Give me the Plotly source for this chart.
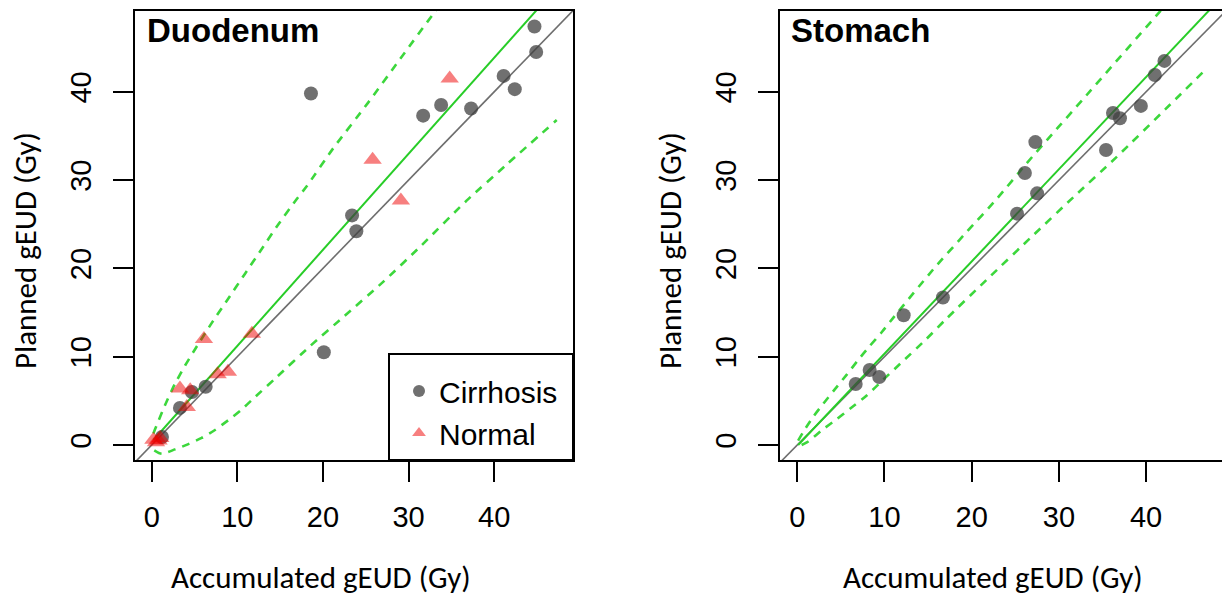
import plotly.graph_objects as go

# ---------------- data ----------------
duo_cirr_x = [44.7, 44.9, 41.1, 42.4, 37.3, 33.8, 31.7, 18.6, 23.4, 23.9, 20.1, 6.3, 4.7, 3.3, 1.2]
duo_cirr_y = [47.4, 44.5, 41.8, 40.3, 38.1, 38.5, 37.3, 39.8, 26.0, 24.2, 10.5, 6.6, 6.0, 4.2, 0.9]

duo_norm_x = [34.8, 25.8, 29.1, 6.1, 11.7, 7.7, 8.9, 3.3, 4.5, 4.1, 0.2, 0.5, 0.8, 1.0]
duo_norm_y = [41.5, 32.3, 27.7, 12.0, 12.6, 8.0, 8.3, 6.4, 6.2, 4.3, 0.6, 0.3, 0.5, 0.8]

sto_cirr_x = [42.1, 41.0, 36.2, 37.0, 39.4, 35.4, 27.3, 26.1, 27.5, 25.2, 16.7, 12.2, 8.3, 9.4, 6.7]
sto_cirr_y = [43.5, 41.9, 37.6, 37.0, 38.4, 33.4, 34.3, 30.8, 28.5, 26.2, 16.7, 14.7, 8.5, 7.7, 6.9]

# fitted lines and prediction bands
duo_fit_x = [0.2, 47.3]
duo_fit_y = [0.57, 51.8]
duo_up_x = [0.2, 0.4, 1.55, 2.7, 3.9, 5.1, 7.0, 8.95, 10.9, 12.85, 14.8, 16.9, 18.1, 21.2, 25.3, 29.0, 33.1, 35.0]
duo_up_y = [1.3, 1.8, 4.5, 6.9, 9.0, 10.9, 13.8, 16.6, 19.4, 22.2, 25.0, 27.8, 29.3, 33.6, 38.8, 43.7, 49.1, 51.4]
duo_lo_x = [0.3, 1.17, 2.72, 4.28, 5.84, 7.39, 8.94, 10.5, 11.7, 14.5, 18.5, 22.5, 27.06, 31.5, 36.8, 41.5, 47.3]
duo_lo_y = [-0.6, -1.0, -0.5, 0.1, 0.8, 1.7, 2.8, 4.0, 5.1, 7.6, 11.2, 14.6, 18.5, 22.6, 27.7, 31.8, 36.8]

sto_fit_x = [0.1, 47.3]
sto_fit_y = [0.0, 49.3]
sto_up_x = [0.1, 0.7, 1.8, 3.0, 4.3, 5.7, 7.0, 8.3, 9.7, 11.0, 15.6, 19.4, 22.9, 26.3, 29.4, 32.8, 41.6, 47.3]
sto_up_y = [0.5, 1.5, 3.15, 4.7, 6.3, 8.0, 9.65, 11.2, 12.8, 14.4, 19.9, 24.1, 27.9, 31.9, 35.4, 39.2, 49.1, 55.3]
sto_lo_x = [0.5, 1.26, 2.98, 4.5, 6.04, 7.96, 9.86, 11.8, 14.8, 17.1, 21.7, 27.1, 31.7, 36.6, 42.7, 46.8]
sto_lo_y = [0.0, 0.4, 1.8, 2.9, 4.1, 5.6, 7.4, 9.2, 12.0, 14.3, 18.7, 23.8, 28.1, 32.6, 38.5, 42.5]

identity_x = [-5, 60]
identity_y = [-5, 60]

tick_vals = [0, 10, 20, 30, 40]
tick_text = ["0", "10", "20", "30", "40"]

# ---------------- styles ----------------
GREY_PT = "rgba(64,64,64,0.75)"
RED_PT = "rgba(240,0,0,0.5)"
GREEN = "rgb(40,205,40)"
GREEN_D = "rgb(60,215,60)"
ID_COL = "rgb(110,110,110)"
TICK_FONT = dict(family="Liberation Sans, Arial, sans-serif", size=29, color="black")
LAB_FONT = dict(family="Carlito, Lato, sans-serif", size=31, color="black")

fig = go.Figure()

def add_lines(xa, ya, fx, fy, ux, uy, lx, ly):
    fig.add_trace(go.Scatter(x=identity_x, y=identity_y, mode="lines", xaxis=xa, yaxis=ya,
                             line=dict(color=ID_COL, width=1.6), showlegend=False, hoverinfo="skip"))
    fig.add_trace(go.Scatter(x=ux, y=uy, mode="lines", xaxis=xa, yaxis=ya, line_shape="spline",
                             line=dict(color=GREEN_D, width=2.6, dash="8px,7px", smoothing=0.6),
                             showlegend=False, hoverinfo="skip"))
    fig.add_trace(go.Scatter(x=lx, y=ly, mode="lines", xaxis=xa, yaxis=ya, line_shape="spline",
                             line=dict(color=GREEN_D, width=2.6, dash="8px,7px", smoothing=0.6),
                             showlegend=False, hoverinfo="skip"))
    fig.add_trace(go.Scatter(x=fx, y=fy, mode="lines", xaxis=xa, yaxis=ya,
                             line=dict(color=GREEN, width=2), showlegend=False, hoverinfo="skip"))

add_lines("x", "y", duo_fit_x, duo_fit_y, duo_up_x, duo_up_y, duo_lo_x, duo_lo_y)
add_lines("x2", "y2", sto_fit_x, sto_fit_y, sto_up_x, sto_up_y, sto_lo_x, sto_lo_y)

fig.add_trace(go.Scatter(x=duo_cirr_x, y=duo_cirr_y, mode="markers", name="Cirrhosis", xaxis="x", yaxis="y",
                         marker=dict(symbol="circle", size=14, color=GREY_PT, line=dict(width=0))))
fig.add_trace(go.Scatter(x=duo_norm_x, y=duo_norm_y, mode="markers", name="Normal", xaxis="x", yaxis="y",
                         marker=dict(symbol="triangle-up", size=16, color=RED_PT, line=dict(width=0))))
fig.add_trace(go.Scatter(x=sto_cirr_x, y=sto_cirr_y, mode="markers", name="Cirrhosis", xaxis="x2", yaxis="y2",
                         showlegend=False,
                         marker=dict(symbol="circle", size=14, color=GREY_PT, line=dict(width=0))))

W, H = 1222, 598
ydom = [1 - 460 / H, 1 - 11 / H]

axis_common = dict(showgrid=False, zeroline=False, showline=True, linecolor="black", linewidth=2,
                   ticks="outside", ticklen=20, tickwidth=2, tickcolor="black",
                   tickvals=tick_vals, ticktext=tick_text, tickfont=TICK_FONT)

fig.update_layout(
    width=W, height=H,
    margin=dict(l=0, r=0, t=0, b=0),
    paper_bgcolor="white", plot_bgcolor="white",
    xaxis=dict(domain=[135 / W, 573 / W], range=[-1.95, 49.2], anchor="y", mirror=True,
               ticklabelstandoff=10, **axis_common),
    yaxis=dict(domain=ydom, range=[-1.7, 49.15], anchor="x", mirror=True, tickangle=-90,
               ticklabelstandoff=10, **axis_common),
    xaxis2=dict(domain=[780 / W, 1.0], range=[-1.98, 48.7], anchor="y2", mirror=True,
                ticklabelstandoff=10, **axis_common),
    yaxis2=dict(domain=ydom, range=[-1.7, 49.15], anchor="x2", mirror=False, tickangle=-90,
                ticklabelstandoff=10, **axis_common),
    showlegend=True,
    legend=dict(x=399 / W, y=1 - 365 / H, xanchor="left", yanchor="top",
                bgcolor="rgba(0,0,0,0)", borderwidth=0,
                font=dict(family="Liberation Sans, Arial, sans-serif", size=30, color="black"),
                tracegroupgap=0, itemsizing="constant"),
    shapes=[dict(type="rect", xref="paper", yref="paper", x0=389 / W, x1=573 / W,
                 y0=1 - 460 / H, y1=1 - 354 / H, line=dict(color="black", width=2),
                 fillcolor="white", layer="below")],
    annotations=[
        dict(text="<b>Duodenum</b>", xref="paper", yref="paper", x=145 / W, y=1 - 31 / H,
             xanchor="left", yanchor="middle", showarrow=False,
             font=dict(family="Liberation Sans, Arial, sans-serif", size=33, color="black")),
        dict(text="<b>Stomach</b>", xref="paper", yref="paper", x=789 / W, y=1 - 31 / H,
             xanchor="left", yanchor="middle", showarrow=False,
             font=dict(family="Liberation Sans, Arial, sans-serif", size=33, color="black")),
        dict(text="Accumulated gEUD (Gy)", xref="paper", yref="paper", x=321 / W, y=1 - 577 / H,
             xanchor="center", yanchor="middle", showarrow=False, font=LAB_FONT),
        dict(text="Accumulated gEUD (Gy)", xref="paper", yref="paper", x=993 / W, y=1 - 577 / H,
             xanchor="center", yanchor="middle", showarrow=False, font=LAB_FONT),
        dict(text="Planned gEUD (Gy)", xref="paper", yref="paper", x=25 / W, y=1 - 251 / H,
             xanchor="center", yanchor="middle", showarrow=False, textangle=-90, font=LAB_FONT),
        dict(text="Planned gEUD (Gy)", xref="paper", yref="paper", x=670 / W, y=1 - 251 / H,
             xanchor="center", yanchor="middle", showarrow=False, textangle=-90, font=LAB_FONT),
    ],
)

fig.write_html("out.html")
